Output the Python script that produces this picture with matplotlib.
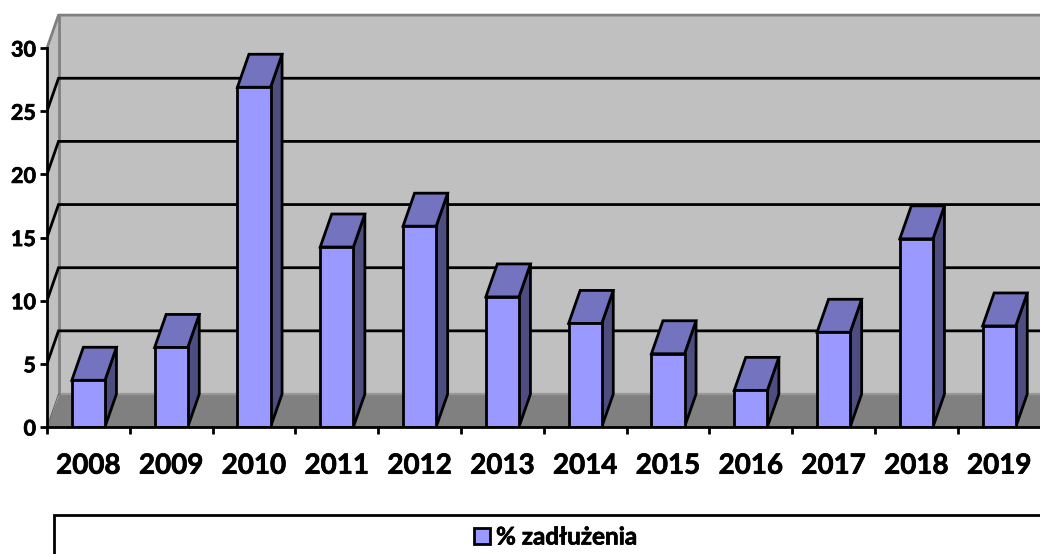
import matplotlib
matplotlib.use('Agg')
import matplotlib.pyplot as plt
import matplotlib.patheffects as pe
from matplotlib.patches import Polygon, Rectangle

plt.rcParams['font.family'] = ['Lato', 'DejaVu Sans']

years = ['2008', '2009', '2010', '2011', '2012', '2013', '2014', '2015', '2016', '2017', '2018', '2019']
values = [3.7, 6.3, 26.9, 14.25, 15.9, 10.3, 8.2, 5.8, 2.9, 7.5, 14.9, 8.0]
y_ticks = [0, 5, 10, 15, 20, 25, 30]
legend_label = '% zadłużenia'

W, H = 1040, 554
fig = plt.figure(figsize=(W / 100, H / 100), dpi=100)

# axes area in pixels: category width 82.8 px, 5 units = 63.2 px
left, right, bottom, top = 47, 1040, 427, 15
ax = fig.add_axes([left / W, 1 - bottom / H, (right - left) / W, (bottom - top) / H])
ax.set_xlim(0, (right - left) / 82.8)
ax.set_ylim(0, (bottom - top) / 12.63)
ax.patch.set_visible(False)

# depth of the fake 3d box, in data units
dx = 11.5 / 82.8
dy = 33 / 12.63
x_end = ax.get_xlim()[1]
y_max = y_ticks[-1]
wall = '#C0C0C0'
floor = '#808080'
edge = '#808080'
lw = 2.0
heavy = [pe.withStroke(linewidth=0.5, foreground='black')]

# back wall, side wall, floor
ax.add_patch(Polygon([(dx, dy), (x_end, dy), (x_end, y_max + dy), (dx, y_max + dy)],
                     fc=wall, ec='none', zorder=1))
ax.add_patch(Polygon([(0, 0), (dx, dy), (dx, y_max + dy), (0, y_max)],
                     fc=wall, ec='none', zorder=1))
ax.add_patch(Polygon([(0, 0), (x_end, 0), (x_end, dy - 0.1), (dx, dy - 0.1)],
                     fc=floor, ec='none', zorder=1))
ax.plot([dx, x_end], [dy, dy], color='#989898', lw=1.6, zorder=1.5, solid_capstyle='butt')
ax.plot([dx, dx], [dy, y_max + dy], color=edge, lw=2.0, zorder=1.5)
ax.plot([0, dx, x_end], [y_max, y_max + dy, y_max + dy], color=edge, lw=2.0, zorder=1.5, clip_on=False)
ax.plot([0, dx], [0, dy], color='#5A5A5A', lw=0.7, zorder=1.6)

# gridlines
for t in y_ticks[1:-1]:
    ax.plot([0, dx, x_end], [t, t + dy, t + dy], color='black', lw=lw, zorder=2,
            solid_joinstyle='miter')

# bars
for i, v in enumerate(values):
    x0 = i + 0.5 - 0.2
    x1 = i + 0.5 + 0.2
    ax.add_patch(Polygon([(x1, 0), (x1 + dx, dy), (x1 + dx, v + dy), (x1, v)],
                         fc='#4D4D80', ec='black', lw=lw, zorder=3, joinstyle='miter'))
    ax.add_patch(Polygon([(x0, v), (x1, v), (x1 + dx, v + dy), (x0 + dx, v + dy)],
                         fc='#7373BF', ec='black', lw=lw, zorder=3, joinstyle='miter'))
    ax.add_patch(Rectangle((x0, 0), x1 - x0, v, fc='#9999FF', ec='black', lw=lw, zorder=4,
                           joinstyle='miter'))

# axes lines and ticks
for s in ['top', 'right']:
    ax.spines[s].set_visible(False)
ax.spines['left'].set_bounds(0, y_max)
ax.spines['left'].set_linewidth(lw)
ax.spines['bottom'].set_linewidth(lw)
ax.spines['left'].set_zorder(5)
ax.spines['bottom'].set_zorder(5)
ax.set_yticks(y_ticks)
ax.set_yticklabels([str(t) for t in y_ticks], fontsize=15.5, fontweight='bold', path_effects=heavy)
ax.set_xticks(range(len(years)))
ax.set_xticklabels([])
ax.set_xticks([i + 0.5 for i in range(len(years))], minor=True)
ax.set_xticklabels(years, minor=True, fontsize=20, fontweight='bold', path_effects=heavy)
ax.tick_params(axis='x', which='major', length=5, width=lw)
ax.tick_params(axis='x', which='minor', length=0, pad=18.5)
ax.tick_params(axis='y', length=5, width=lw, pad=3)

# legend box runs off the figure
fig.add_artist(Rectangle((54 / W, -0.02), 1.05, 1 - 515 / H + 0.02, transform=fig.transFigure,
                         fc='white', ec='black', lw=lw))
fig.add_artist(Rectangle((474 / W, 1 - 544 / H), 16 / W, 16 / H, transform=fig.transFigure,
                         fc='#9999FF', ec='black', lw=lw))
fig.text(496 / W, 1 - 537 / H, legend_label, fontsize=17.5, fontweight='bold', va='center', ha='left',
         path_effects=heavy)

fig.savefig('out.png', dpi=100)
